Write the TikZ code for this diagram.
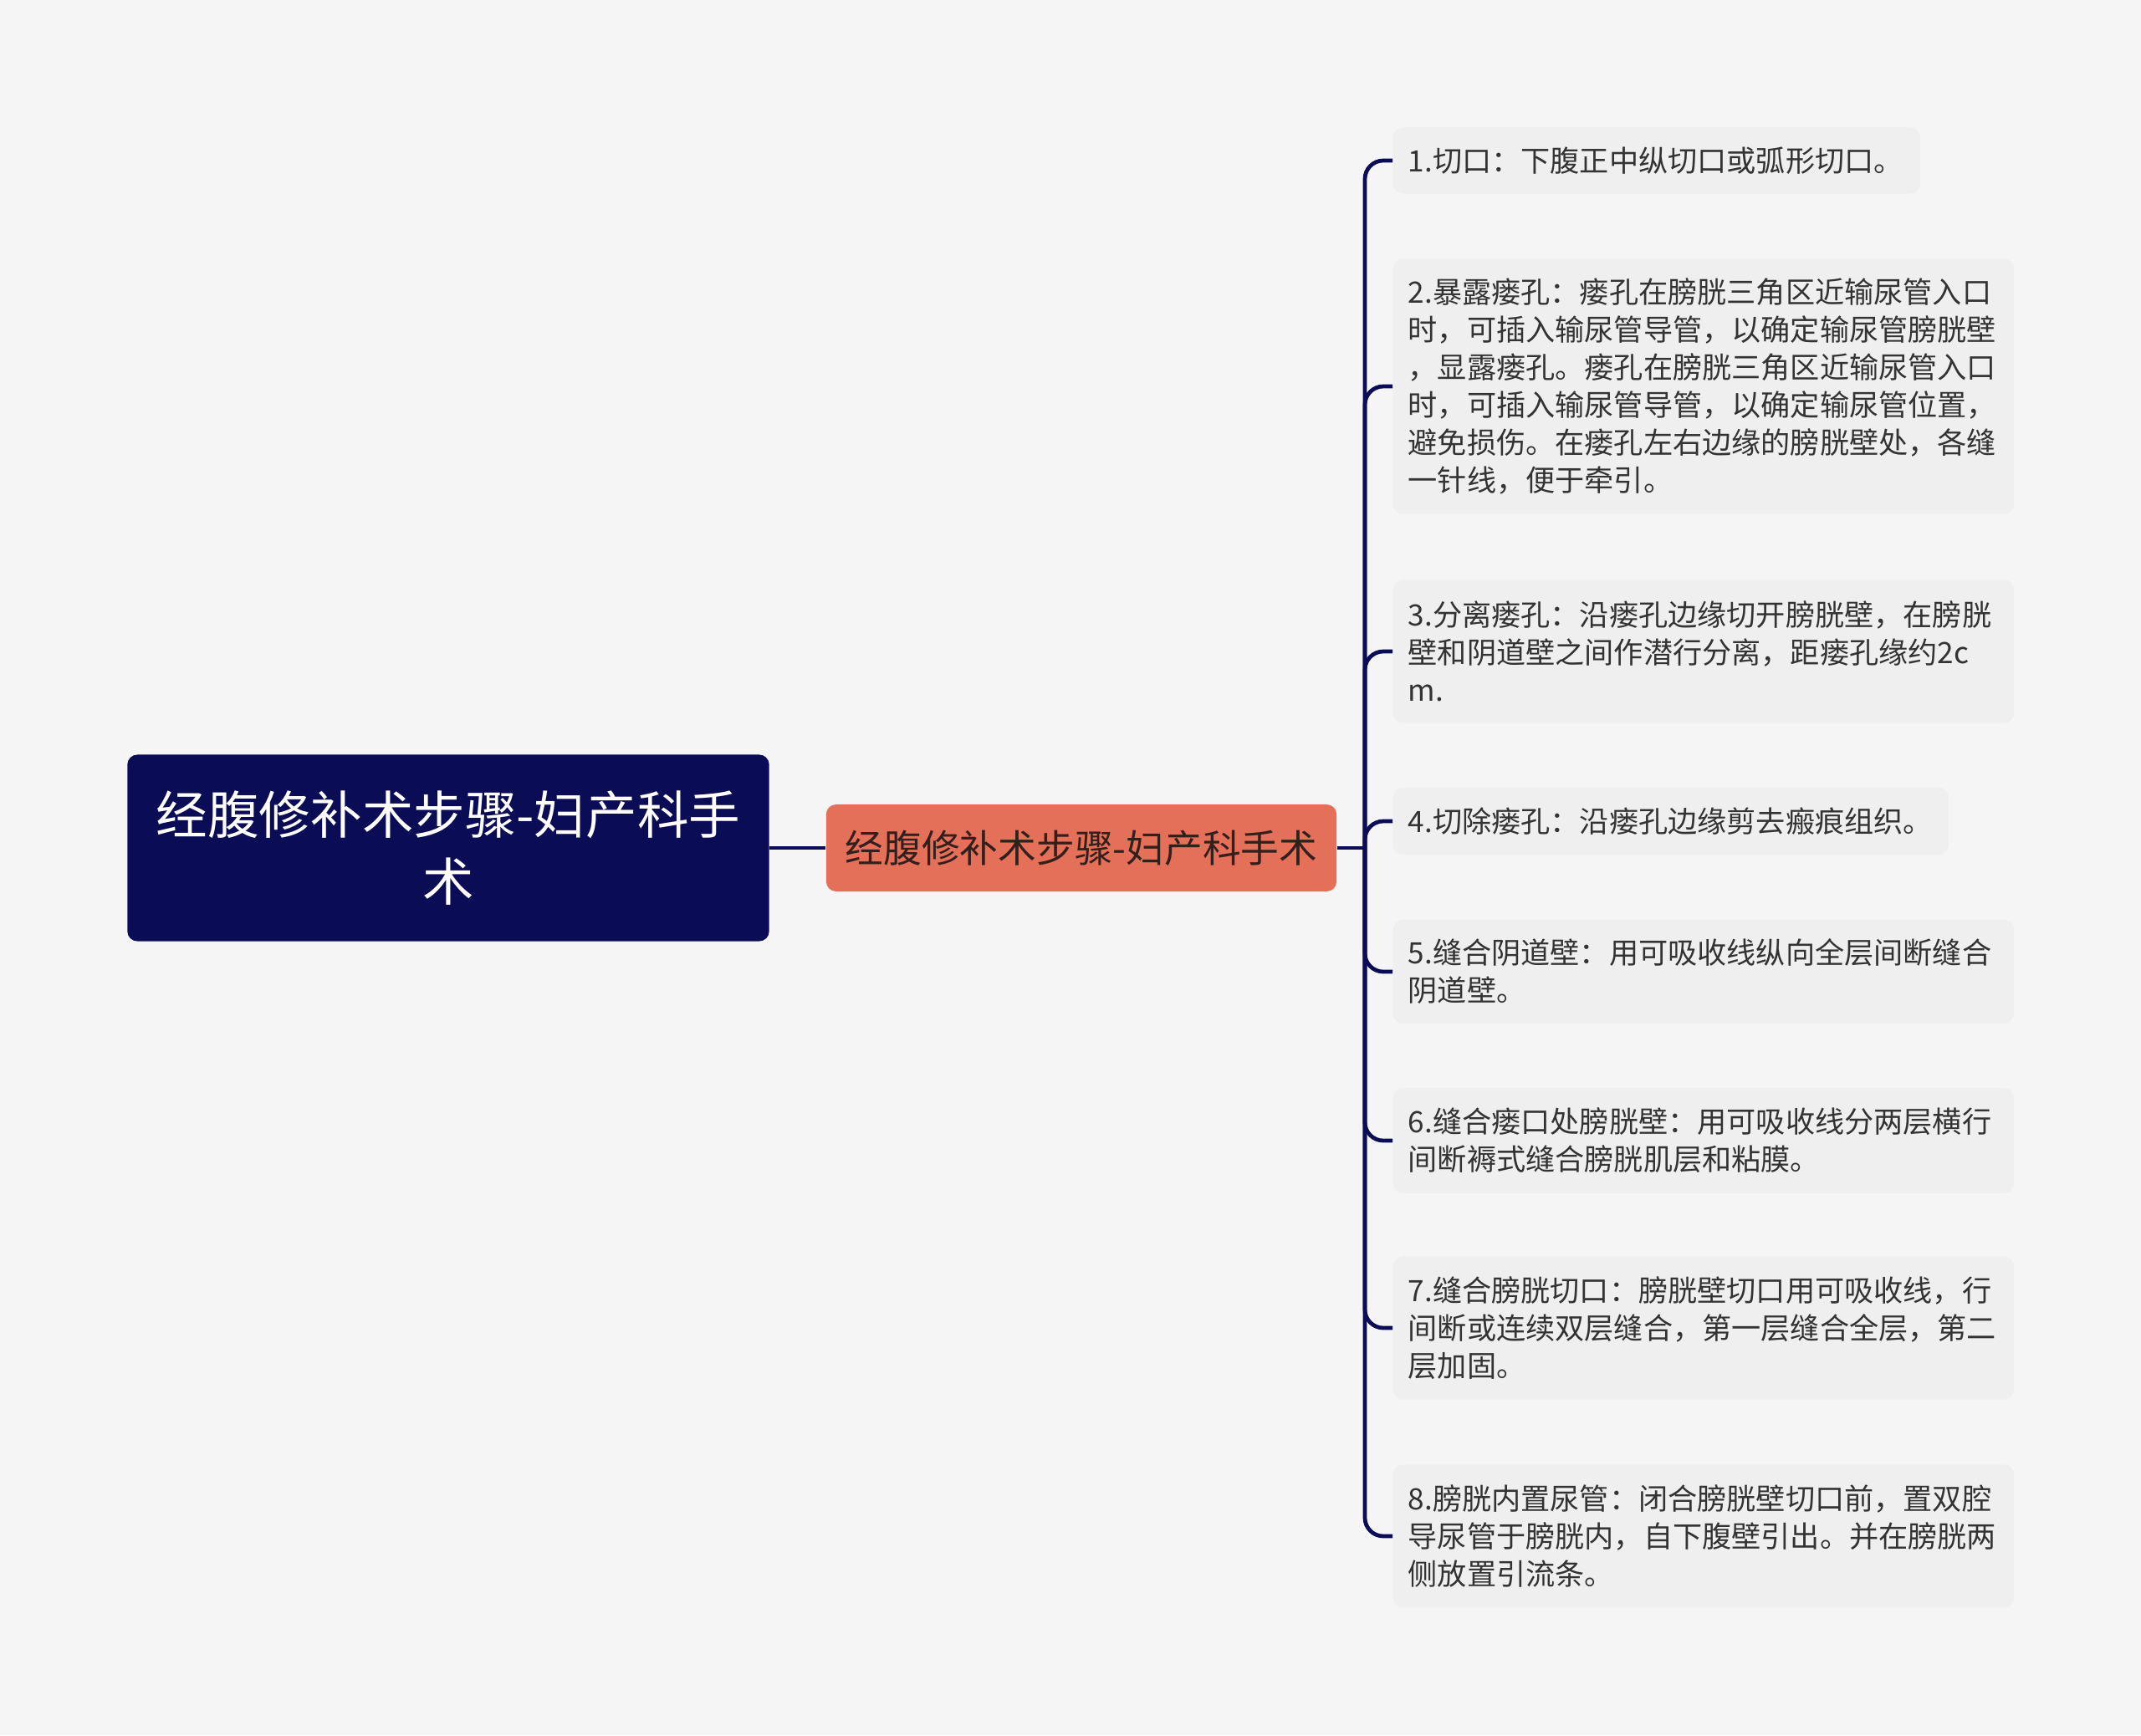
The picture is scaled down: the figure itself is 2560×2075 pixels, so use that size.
\documentclass[tikz,border=0pt]{standalone}
\usepackage{fontspec}
\setmainfont{Noto Sans CJK SC}
\usepackage{tikz}
\tikzset{>=latex}
\definecolor{bgcol}{HTML}{F5F5F5}
\definecolor{navy}{HTML}{0A0C55}
\definecolor{salmon}{HTML}{E4705A}
\definecolor{midtext}{HTML}{33201C}
\definecolor{leaffill}{HTML}{EFEFEF}
\definecolor{leaftext}{HTML}{333333}

\begin{document}
\begin{tikzpicture}[
    x = 0.01cm, y = -0.01cm,
    rootbox/.style = {fill = navy, text = white, rounded corners = 0.12cm, align = center, minimum width = 7.67cm, minimum height = 2.23cm, inner sep = 0pt, font = \fontsize{17.5}{22.8}\selectfont},
    midbox/.style = {fill = salmon, text = midtext, rounded corners = 0.12cm, minimum width = 6.1cm, minimum height = 1.04cm, inner sep = 0pt, font = \fontsize{13}{16}\selectfont},
    leaf/.style = {anchor = west, fill = leaffill, text = leaftext, rounded corners = 0.12cm, inner xsep = 0.18cm, inner ysep = 0pt, align = left, text width = 7.06cm, font = \fontsize{10}{12.8}\selectfont},
    link/.style = {draw = navy, line width = 1.35pt},
]

\fill[bgcol] (0,0) rectangle (2560,2075);

\node[rootbox] (root) at (536,1014) {经腹修补术步骤-妇产科手\\术};
\node[midbox] (mid) at (1293,1014) {经腹修补术步骤-妇产科手术};
\coordinate (hub) at (1632,1014);

\node[leaf, text width = 5.94cm, minimum height = 0.79cm] (s1) at (1665,192) {1.切口：下腹正中纵切口或弧形切口。};
\node[leaf, minimum height = 3.05cm] (s2) at (1665,462) {2.暴露瘘孔：瘘孔在膀胱三角区近输尿管入口\\时，可插入输尿管导管，以确定输尿管膀胱壁\\，显露瘘孔。瘘孔在膀胱三角区近输尿管入口\\时，可插入输尿管导管，以确定输尿管位置，\\避免损伤。在瘘孔左右边缘的膀胱壁处，各缝\\一针线，便于牵引。};
\node[leaf, minimum height = 1.71cm] (s3) at (1665,779) {3.分离瘘孔：沿瘘孔边缘切开膀胱壁，在膀胱\\壁和阴道壁之间作潜行分离，距瘘孔缘约2c\\m.};
\node[leaf, text width = 6.28cm, minimum height = 0.8cm] (s4) at (1665,982) {4.切除瘘孔：沿瘘孔边缘剪去瘢痕组织。};
\node[leaf, minimum height = 1.24cm] (s5) at (1665,1162) {5.缝合阴道壁：用可吸收线纵向全层间断缝合\\阴道壁。};
\node[leaf, minimum height = 1.26cm] (s6) at (1665,1364) {6.缝合瘘口处膀胱壁：用可吸收线分两层横行\\间断褥式缝合膀胱肌层和粘膜。};
\node[leaf, minimum height = 1.71cm] (s7) at (1665,1588) {7.缝合膀胱切口：膀胱壁切口用可吸收线，行\\间断或连续双层缝合，第一层缝合全层，第二\\层加固。};
\node[leaf, minimum height = 1.71cm] (s8) at (1665,1837) {8.膀胱内置尿管：闭合膀胱壁切口前，置双腔\\导尿管于膀胱内，自下腹壁引出。并在膀胱两\\侧放置引流条。};

\draw[link] (root.east) -- (mid.west);
\draw[link] (mid.east) -- (hub);
\foreach \s in {s1,s2,s3,s4,s5,s6,s7,s8}
    \draw[link, rounded corners = 0.22cm] (hub) |- (\s.west);

\end{tikzpicture}
\end{document}
